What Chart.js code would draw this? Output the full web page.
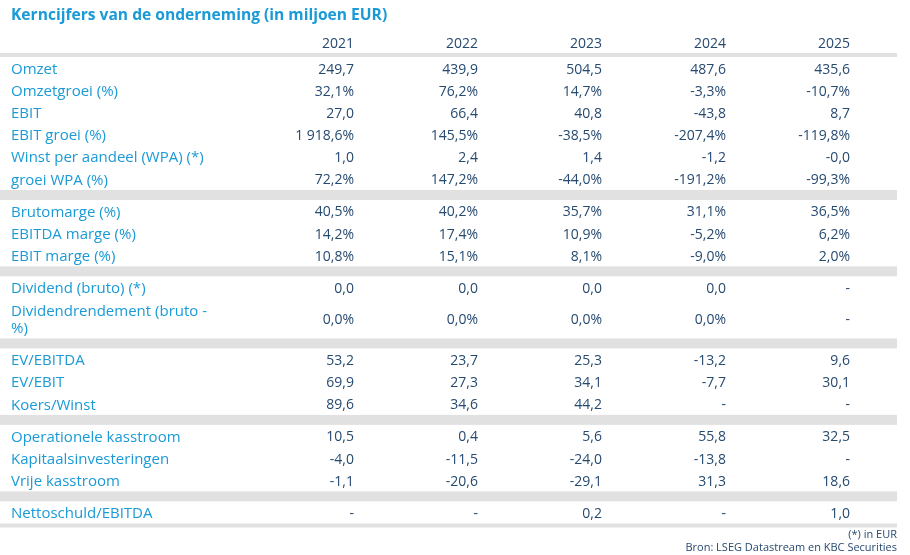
<!DOCTYPE html>
<html><head><meta charset="utf-8">
<script src="https://cdn.jsdelivr.net/npm/chart.js@4.4.1/dist/chart.umd.min.js"></script>
<style>html,body{margin:0;padding:0;background:#fff}#wrap{width:910px;height:555px;position:relative}</style>
</head><body><div id="wrap"><canvas id="c"></canvas></div>
<script>
// ---- data ----
const years = ['2021', '2022', '2023', '2024', '2025'];
const omzet = [249.7, 439.9, 504.5, 487.6, 435.6];
const omzetgroei = [32.1, 76.2, 14.7, -3.3, -10.7];
const ebit = [27.0, 66.4, 40.8, -43.8, 8.7];
const ebitGroei = [1918.6, 145.5, -38.5, -207.4, -119.8];
const wpa = [1.0, 2.4, 1.4, -1.2, -0.04];
const groeiWpa = [72.2, 147.2, -44.0, -191.2, -99.3];
const brutomarge = [40.5, 40.2, 35.7, 31.1, 36.5];
const ebitdaMarge = [14.2, 17.4, 10.9, -5.2, 6.2];
const ebitMarge = [10.8, 15.1, 8.1, -9.0, 2.0];
const dividend = [0.0, 0.0, 0.0, 0.0, null];
const dividendrendement = [0.0, 0.0, 0.0, 0.0, null];
const evEbitda = [53.2, 23.7, 25.3, -13.2, 9.6];
const evEbit = [69.9, 27.3, 34.1, -7.7, 30.1];
const koersWinst = [89.6, 34.6, 44.2, null, null];
const operKasstroom = [10.5, 0.4, 5.6, 55.8, 32.5];
const kapInvest = [-4.0, -11.5, -24.0, -13.8, null];
const vrijeKasstroom = [-1.1, -20.6, -29.1, 31.3, 18.6];
const nettoschuldEbitda = [null, null, 0.2, null, 1.0];

const titleText = 'Kerncijfers van de onderneming (in miljoen EUR)';
const footnotes = ['(*) in EUR', 'Bron: LSEG Datastream en KBC Securities'];

const groups = [
  [
    { label: 'Omzet', values: omzet },
    { label: 'Omzetgroei (%)', values: omzetgroei, pct: true },
    { label: 'EBIT', values: ebit },
    { label: 'EBIT groei (%)', values: ebitGroei, pct: true },
    { label: 'Winst per aandeel (WPA) (*)', values: wpa },
    { label: 'groei WPA (%)', values: groeiWpa, pct: true }
  ],
  [
    { label: 'Brutomarge (%)', values: brutomarge, pct: true },
    { label: 'EBITDA marge (%)', values: ebitdaMarge, pct: true },
    { label: 'EBIT marge (%)', values: ebitMarge, pct: true }
  ],
  [
    { label: 'Dividend (bruto) (*)', values: dividend },
    { label: ['Dividendrendement (bruto -', '%)'], values: dividendrendement, pct: true }
  ],
  [
    { label: 'EV/EBITDA', values: evEbitda },
    { label: 'EV/EBIT', values: evEbit },
    { label: 'Koers/Winst', values: koersWinst }
  ],
  [
    { label: 'Operationele kasstroom', values: operKasstroom },
    { label: 'Kapitaalsinvesteringen', values: kapInvest },
    { label: 'Vrije kasstroom', values: vrijeKasstroom }
  ],
  [
    { label: 'Nettoschuld/EBITDA', values: nettoschuldEbitda }
  ]
];

// ---- styling / layout constants ----
const FONT = "'Open Sans', 'Noto Sans', sans-serif";
const BLUE = '#1a9ad6';
const NAVY = '#264a70';
const GRAY = '#e1e1e1';
const HEADER = 0.9, LINE = 0.18, BAND = 0.45, DOUBLE = 1.8;
const TEXT_DY = 1.5;

function fmt(v, pct) {
  if (v === null || v === undefined) return '-';
  const neg = v < 0;
  const parts = Math.abs(v).toFixed(1).split('.');
  const intPart = parts[0].replace(/\B(?=(\d{3})+(?!\d))/g, ' ');
  return (neg ? '-' : '') + intPart + ',' + parts[1] + (pct ? '%' : '');
}

// build vertical layout (in row units)
const layout = [];
let pos = 0;
layout.push({ type: 'header', top: pos, h: HEADER }); pos += HEADER;
layout.push({ type: 'line', top: pos, h: LINE }); pos += LINE;
groups.forEach((g, gi) => {
  if (gi > 0) { layout.push({ type: 'band', top: pos, h: BAND }); pos += BAND; }
  g.forEach(r => {
    const h = Array.isArray(r.label) ? DOUBLE : 1;
    layout.push({ type: 'row', row: r, top: pos, h: h }); pos += h;
  });
});
layout.push({ type: 'line', top: pos, h: LINE }); pos += LINE;
const TOTAL = pos;

const tablePlugin = {
  id: 'table',
  afterDraw(chart) {
    const { ctx, scales: { x, y }, chartArea } = chart;
    const labelX = x.getPixelForValue(x.min);
    const right = chartArea.right;
    ctx.save();
    ctx.textBaseline = 'middle';
    layout.forEach(item => {
      const top = y.getPixelForValue(item.top);
      const bot = y.getPixelForValue(item.top + item.h);
      const mid = (top + bot) / 2 + TEXT_DY;
      if (item.type === 'line' || item.type === 'band') {
        ctx.fillStyle = GRAY;
        ctx.fillRect(0, top, right, bot - top);
      } else if (item.type === 'header') {
        ctx.fillStyle = NAVY;
        ctx.font = '14px ' + FONT;
        ctx.textAlign = 'right';
        years.forEach((yr, i) => ctx.fillText(yr, x.getPixelForValue(i + 1), mid));
      } else {
        const r = item.row;
        ctx.fillStyle = BLUE;
        ctx.font = '15px ' + FONT;
        ctx.textAlign = 'left';
        if (Array.isArray(r.label)) {
          ctx.fillText(r.label[0], labelX, mid - 8.5);
          ctx.fillText(r.label[1], labelX, mid + 8.5);
        } else {
          ctx.fillText(r.label, labelX, mid);
        }
        ctx.fillStyle = NAVY;
        ctx.font = '14px ' + FONT;
        ctx.textAlign = 'right';
        r.values.forEach((v, i) => ctx.fillText(fmt(v, r.pct), x.getPixelForValue(i + 1), mid));
      }
    });
    ctx.restore();
  }
};

new Chart(document.getElementById('c'), {
  type: 'scatter',
  data: { datasets: [] },
  options: {
    responsive: true,
    maintainAspectRatio: false,
    animation: false,
    layout: { padding: { left: 11, right: 13, top: 0, bottom: 0 } },
    scales: {
      x: { type: 'linear', display: false, min: -1.766, max: 5.379 },
      y: { type: 'linear', display: false, reverse: true, min: 0, max: TOTAL }
    },
    plugins: {
      legend: { display: false },
      tooltip: { enabled: false },
      title: {
        display: true, text: titleText, align: 'start', color: BLUE,
        font: { family: FONT, size: 15.6, weight: 'bold', lineHeight: 1.2 },
        padding: { top: 6, bottom: 8.3 }
      },
      subtitle: {
        display: true, text: footnotes, align: 'end', position: 'bottom', color: NAVY,
        font: { family: FONT, size: 11, lineHeight: 1.25 },
        padding: { top: 0, bottom: 0 }
      }
    }
  },
  plugins: [tablePlugin]
});
</script>
</body></html>
